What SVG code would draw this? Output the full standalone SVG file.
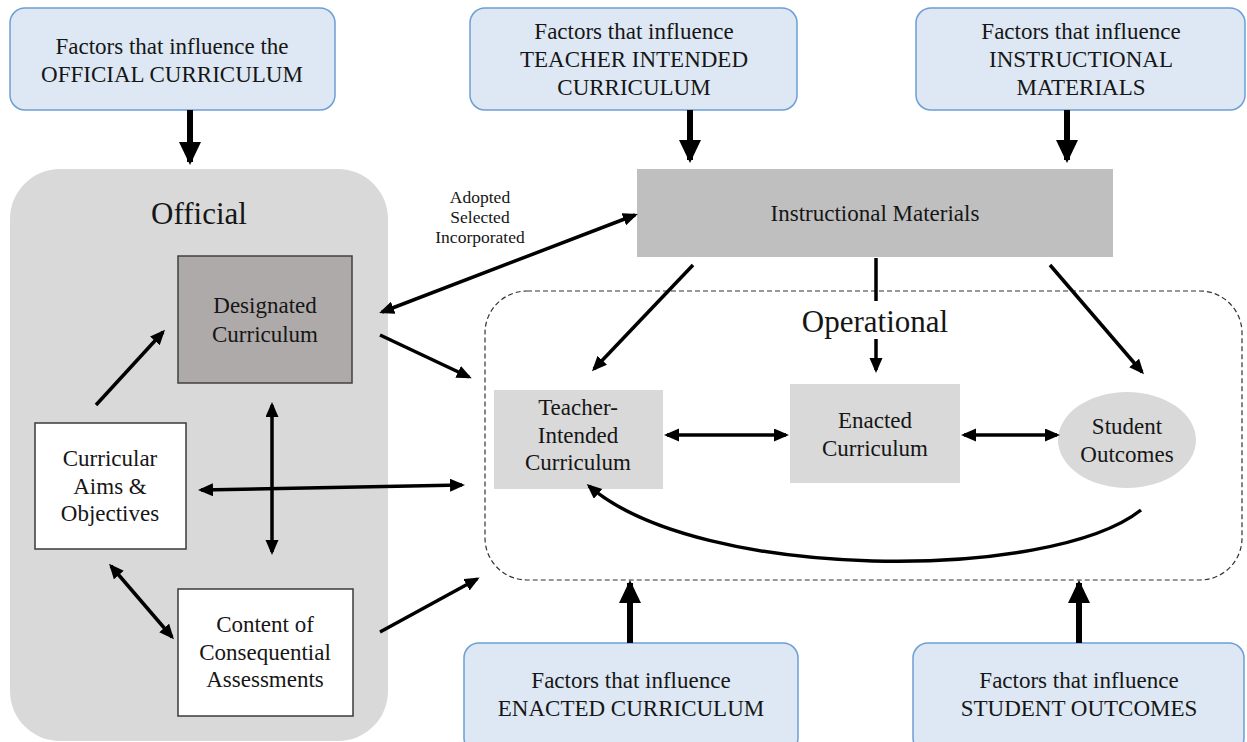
<svg xmlns="http://www.w3.org/2000/svg" width="1247" height="742" viewBox="0 0 1247 742">
  <defs>
    <marker id="head" markerUnits="userSpaceOnUse" markerWidth="16" markerHeight="14" refX="12" refY="6.5" orient="auto-start-reverse">
      <path d="M0,0 L15,6.5 L0,13 z" fill="#000"/>
    </marker>
    <marker id="bighead" markerUnits="userSpaceOnUse" markerWidth="24" markerHeight="24" refX="20" refY="11" orient="auto">
      <path d="M0,0 L23,11 L0,22 z" fill="#000"/>
    </marker>
    <style>
      .txt { font-family: "Liberation Serif", "Times New Roman", serif; fill: #161616; text-anchor: middle; }
      .f23 { font-size: 23px; }
      .f31 { font-size: 31px; }
      .f17 { font-size: 17.5px; }
      .factor { fill: #dde8f4; stroke: #6c9fd4; stroke-width: 1.5; }
      .plain { fill: #ffffff; stroke: #3a3a3a; stroke-width: 1.5; }
      .soft { fill: #d9d9d9; }
      .link { fill: none; stroke: #000; stroke-width: 3.5; }
      .thick { fill: none; stroke: #000; stroke-width: 6; }
    </style>
  </defs>

  <rect width="1247" height="742" fill="#ffffff"/>

  <!-- region containers -->
  <g id="official-region">
    <rect x="10" y="169" width="378" height="572" rx="50" ry="50" fill="#d9d9d9"/>
    <text class="txt f31" x="199" y="224">Official</text>
  </g>
  <g id="operational-region">
    <rect x="485" y="291" width="757" height="289" rx="42" ry="42" fill="none" stroke="#333" stroke-width="1.2" stroke-dasharray="5,3"/>
    <text class="txt f31" x="875" y="332">Operational</text>
  </g>

  <!-- factor boxes -->
  <g id="factors-official">
    <rect class="factor" x="10" y="8" width="325" height="102" rx="15"/>
    <text class="txt f23" x="172" y="54">Factors that influence the</text>
    <text class="txt f23" x="172" y="82">OFFICIAL CURRICULUM</text>
  </g>
  <g id="factors-teacher">
    <rect class="factor" x="470" y="8" width="327" height="102" rx="15"/>
    <text class="txt f23" x="634" y="39">Factors that influence</text>
    <text class="txt f23" x="634" y="67">TEACHER INTENDED</text>
    <text class="txt f23" x="634" y="95">CURRICULUM</text>
  </g>
  <g id="factors-materials">
    <rect class="factor" x="916" y="8" width="329" height="102" rx="15"/>
    <text class="txt f23" x="1081" y="39">Factors that influence</text>
    <text class="txt f23" x="1081" y="67">INSTRUCTIONAL</text>
    <text class="txt f23" x="1081" y="95">MATERIALS</text>
  </g>
  <g id="factors-enacted">
    <rect class="factor" x="464" y="643" width="334" height="110" rx="15"/>
    <text class="txt f23" x="631" y="688">Factors that influence</text>
    <text class="txt f23" x="631" y="716">ENACTED CURRICULUM</text>
  </g>
  <g id="factors-outcomes">
    <rect class="factor" x="913" y="643" width="331" height="110" rx="15"/>
    <text class="txt f23" x="1079" y="688">Factors that influence</text>
    <text class="txt f23" x="1079" y="716">STUDENT OUTCOMES</text>
  </g>

  <!-- official curriculum nodes -->
  <g id="designated">
    <rect x="178" y="256" width="174" height="127" fill="#aeaaaa" stroke="#404040" stroke-width="1.5"/>
    <text class="txt f23" x="265" y="313">Designated</text>
    <text class="txt f23" x="265" y="342">Curriculum</text>
  </g>
  <g id="aims">
    <rect class="plain" x="35" y="423" width="151" height="126"/>
    <text class="txt f23" x="110" y="466">Curricular</text>
    <text class="txt f23" x="110" y="494">Aims &amp;</text>
    <text class="txt f23" x="110" y="521">Objectives</text>
  </g>
  <g id="assessments">
    <rect class="plain" x="178" y="589" width="175" height="127"/>
    <text class="txt f23" x="265" y="632">Content of</text>
    <text class="txt f23" x="265" y="660">Consequential</text>
    <text class="txt f23" x="265" y="687">Assessments</text>
  </g>

  <!-- instructional materials -->
  <g id="materials">
    <rect x="637" y="169" width="476" height="88" fill="#bfbfbf"/>
    <text class="txt f23" x="875" y="221">Instructional Materials</text>
  </g>
  <g id="adopted-label">
    <text class="txt f17" x="480" y="203">Adopted</text>
    <text class="txt f17" x="480" y="223">Selected</text>
    <text class="txt f17" x="480" y="243">Incorporated</text>
  </g>

  <!-- operational nodes -->
  <g id="teacher-intended">
    <rect class="soft" x="494" y="390" width="169" height="99"/>
    <text class="txt f23" x="578" y="415">Teacher-</text>
    <text class="txt f23" x="578" y="443">Intended</text>
    <text class="txt f23" x="578" y="470">Curriculum</text>
  </g>
  <g id="enacted">
    <rect class="soft" x="790" y="384" width="170" height="99"/>
    <text class="txt f23" x="875" y="428">Enacted</text>
    <text class="txt f23" x="875" y="456">Curriculum</text>
  </g>
  <g id="outcomes">
    <ellipse class="soft" cx="1127" cy="440" rx="69" ry="48"/>
    <text class="txt f23" x="1127" y="434">Student</text>
    <text class="txt f23" x="1127" y="462">Outcomes</text>
  </g>

  <!-- connectors -->
  <g id="connectors">
    <!-- factor arrows -->
    <line class="thick" x1="190" y1="110" x2="190" y2="162" marker-end="url(#bighead)"/>
    <line class="thick" x1="690" y1="110" x2="690" y2="160" marker-end="url(#bighead)"/>
    <line class="thick" x1="1067" y1="110" x2="1067" y2="160" marker-end="url(#bighead)"/>
    <line class="thick" x1="630" y1="643" x2="630" y2="583" marker-end="url(#bighead)"/>
    <line class="thick" x1="1079" y1="643" x2="1079" y2="583" marker-end="url(#bighead)"/>

    <!-- official side -->
    <line class="link" x1="96" y1="405" x2="163" y2="332" marker-end="url(#head)"/>
    <line class="link" x1="272" y1="405" x2="272" y2="552" marker-start="url(#head)" marker-end="url(#head)"/>
    <line class="link" x1="201" y1="490" x2="462" y2="485" marker-start="url(#head)" marker-end="url(#head)"/>
    <line class="link" x1="111" y1="566" x2="172" y2="637" marker-start="url(#head)" marker-end="url(#head)"/>
    <line class="link" x1="380" y1="335" x2="469" y2="377" marker-end="url(#head)"/>
    <line class="link" x1="380" y1="632" x2="477" y2="579" marker-end="url(#head)"/>
    <line class="link" x1="382" y1="312" x2="635" y2="215" marker-start="url(#head)" marker-end="url(#head)"/>

    <!-- from instructional materials -->
    <line class="link" x1="693" y1="265" x2="594" y2="369" marker-end="url(#head)"/>
    <path class="link" d="M876 258 V301 M876 339 V370" marker-end="url(#head)"/>
    <line class="link" x1="1050" y1="265" x2="1142" y2="372" marker-end="url(#head)"/>

    <!-- operational links -->
    <line class="link" x1="667" y1="435" x2="786" y2="435" marker-start="url(#head)" marker-end="url(#head)"/>
    <line class="link" x1="964" y1="435" x2="1057" y2="435" marker-start="url(#head)" marker-end="url(#head)"/>
    <path class="link" d="M1141 510 C1050 582, 700 582, 589 486" marker-end="url(#head)"/>
  </g>
</svg>
